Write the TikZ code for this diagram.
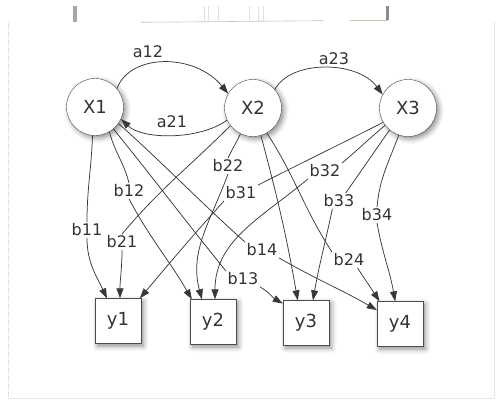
\documentclass[tikz,border=0pt]{standalone}
\usepackage{fontspec}
\setmainfont{DejaVu Sans}
\usetikzlibrary{arrows.meta,shadows.blur}
\definecolor{scan}{RGB}{205,195,180}
\begin{document}
\begin{tikzpicture}[x=1pt,y=1pt,
  state/.style={circle,draw=black!70,fill=white,minimum size=57pt,inner sep=0pt,
    font=\fontsize{18}{20}\selectfont,text=black!80,
    blur shadow={shadow xshift=2.5pt,shadow yshift=-2.5pt,shadow blur radius=5pt,shadow opacity=45}},
  obs/.style={rectangle,draw=black!70,fill=white,minimum width=46pt,minimum height=45pt,inner sep=0pt,
    font=\fontsize{18}{20}\selectfont,text=black!80,
    blur shadow={shadow xshift=2.5pt,shadow yshift=-2.5pt,shadow blur radius=5pt,shadow opacity=45}},
  lab/.style={inner sep=1.5pt,font=\fontsize{16}{18}\selectfont,text=black!80},
  edge/.style={draw=black!78,line width=0.75pt,-{Triangle[length=10pt,width=7pt]}},
  scanline/.style={draw=scan,line width=0.6pt}]
\useasboundingbox (0,0) rectangle (497,400);
% faint frame and scan marks
\draw[black!15,line width=0.6pt,densely dotted] (8,378) -- (8,2) -- (494,2) -- (494,378);
\fill[black!35] (73,378) rectangle (77,394);
\fill[black!45] (386,380) rectangle (389,394);
\draw[scanline] (141,377.7) -- (323,379.3);
\draw[scanline] (350,380) -- (388,380);
\foreach \xx in {204,208,218,249,258,263} \draw[black!12,line width=0.4pt] (\xx,378) -- (\xx,394);
% nodes
\node[state] (X1) at (95,293) {X1};
\node[state] (X2) at (253,292) {X2};
\node[state] (X3) at (408,292) {X3};
\node[obs] (y1) at (118,79) {y1};
\node[obs] (y2) at (213,78) {y2};
\node[obs] (y3) at (306,77) {y3};
\node[obs] (y4) at (400,76) {y4};
% labels
\node[lab] (a12) at (148,348) {a12};
\node[lab] (a23) at (334,341) {a23};
\node[lab] (a21) at (172,278) {a21};
\node[lab] (b11) at (87,170) {b11};
\node[lab] (b12) at (129,209) {b12};
\node[lab] (b21) at (122,158) {b21};
\node[lab] (b22) at (228,234) {b22};
\node[lab] (b31) at (241,207) {b31};
\node[lab] (b14) at (262,150) {b14};
\node[lab] (b13) at (243,121) {b13};
\node[lab] (b32) at (325,229) {b32};
\node[lab] (b33) at (339,199) {b33};
\node[lab] (b34) at (377,185) {b34};
\node[lab] (b24) at (349,140) {b24};
% transitions
\draw[edge] (X1.40) .. controls (130,347) and (195,347) .. (X2.150);
\draw[edge] (X2.40) .. controls (290,340) and (357,340) .. (X3.152);
\draw[edge] (X2.205) .. controls (200,260) and (143,260) .. (X1.335);
% emissions
\draw[edge] (X1.265) to[out=268,in=90] (b11.north) (b11.south) to[out=270,in=115] (y1.116);
\draw[edge] (X2.218) to[out=225,in=50] (b21.north) (b21.south) to[out=270,in=90] (y1.85);
\draw[edge] (X3.210) to[out=207,in=27] (b31.north east) (b31.south west) to[out=228,in=50] (y1.46);
\draw[edge] (X1.300) to[out=285,in=104] (b12.north) (b12.south) to[out=298,in=120] (y2.133);
\draw[edge] (X2.244) to[out=245,in=65] (b22.north) (b22.south) to[out=250,in=105] (y2.116);
\draw[edge] (X3.217) to[out=220,in=40] (b32.north east) (b32.south west) to[out=220,in=90] (y2.85);
\draw[edge] (X1.310) to[out=309,in=129] (b13.north west) (b13.south east) to[out=330,in=150] (y3.140);
\draw[edge] (X2.286) to[out=285,in=100] (y3.110);
\draw[edge] (X3.230) to[out=235,in=55] (b33.50) (b33.230) to[out=258,in=80] (y3.73);
\draw[edge] (X1.325) to[out=318,in=138] (b14.north west) (b14.south east) to[out=330,in=150] (y4.149);
\draw[edge] (X2.299) to[out=303,in=123] (b24.north west) (b24.317) to[out=303,in=123] (y4.132);
\draw[edge] (X3.251) to[out=250,in=85] (b34.north) (b34.south) to[out=280,in=100] (y4.102);
\end{tikzpicture}
\end{document}
